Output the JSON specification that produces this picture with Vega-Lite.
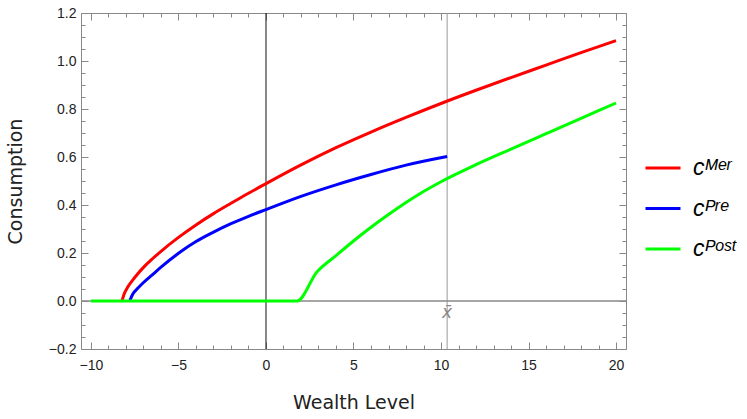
{
  "$schema": "https://vega.github.io/schema/vega-lite/v6.json",
  "width": 545,
  "height": 336,
  "autosize": {"type": "none"},
  "padding": {"left": 81, "top": 13, "right": 121, "bottom": 70},
  "background": "white",
  "config": {
    "view": {"stroke": null},
    "axis": {
      "domainColor": "#888888",
      "tickColor": "#888888",
      "grid": false,
      "labelFont": "Liberation Sans",
      "labelFontSize": 14,
      "labelColor": "#222222",
      "titleFont": "DejaVu Sans",
      "titleFontSize": 19,
      "titleFontWeight": "normal",
      "titleColor": "#222222",
      "labelOverlap": false,
      "labelFlush": false,
      "domainWidth": 1,
      "tickWidth": 1
    }
  },
  "datasets": {
    "curves": [
      {"series": "cᴹᵉʳ", "x": -8.23, "y": 0},
      {"series": "cᴹᵉʳ", "x": -8.1, "y": 0.03},
      {"series": "cᴹᵉʳ", "x": -7.9, "y": 0.058},
      {"series": "cᴹᵉʳ", "x": -7.5, "y": 0.098},
      {"series": "cᴹᵉʳ", "x": -7, "y": 0.14},
      {"series": "cᴹᵉʳ", "x": -6.5, "y": 0.175},
      {"series": "cᴹᵉʳ", "x": -6, "y": 0.207},
      {"series": "cᴹᵉʳ", "x": -5, "y": 0.265},
      {"series": "cᴹᵉʳ", "x": -4, "y": 0.317},
      {"series": "cᴹᵉʳ", "x": -3, "y": 0.364},
      {"series": "cᴹᵉʳ", "x": -2, "y": 0.407},
      {"series": "cᴹᵉʳ", "x": -1, "y": 0.449},
      {"series": "cᴹᵉʳ", "x": 0, "y": 0.489},
      {"series": "cᴹᵉʳ", "x": 2, "y": 0.567},
      {"series": "cᴹᵉʳ", "x": 4, "y": 0.639},
      {"series": "cᴹᵉʳ", "x": 6, "y": 0.704},
      {"series": "cᴹᵉʳ", "x": 8, "y": 0.765},
      {"series": "cᴹᵉʳ", "x": 10, "y": 0.823},
      {"series": "cᴹᵉʳ", "x": 12, "y": 0.878},
      {"series": "cᴹᵉʳ", "x": 14, "y": 0.931},
      {"series": "cᴹᵉʳ", "x": 16, "y": 0.983},
      {"series": "cᴹᵉʳ", "x": 18, "y": 1.035},
      {"series": "cᴹᵉʳ", "x": 20, "y": 1.085},
      {"series": "cᴾʳᵉ", "x": -7.79, "y": 0},
      {"series": "cᴾʳᵉ", "x": -7.6, "y": 0.03},
      {"series": "cᴾʳᵉ", "x": -7.3, "y": 0.055},
      {"series": "cᴾʳᵉ", "x": -7, "y": 0.077},
      {"series": "cᴾʳᵉ", "x": -6.5, "y": 0.109},
      {"series": "cᴾʳᵉ", "x": -6, "y": 0.141},
      {"series": "cᴾʳᵉ", "x": -5, "y": 0.199},
      {"series": "cᴾʳᵉ", "x": -4, "y": 0.248},
      {"series": "cᴾʳᵉ", "x": -3, "y": 0.287},
      {"series": "cᴾʳᵉ", "x": -2, "y": 0.322},
      {"series": "cᴾʳᵉ", "x": -1, "y": 0.353},
      {"series": "cᴾʳᵉ", "x": 0, "y": 0.381},
      {"series": "cᴾʳᵉ", "x": 2, "y": 0.436},
      {"series": "cᴾʳᵉ", "x": 4, "y": 0.484},
      {"series": "cᴾʳᵉ", "x": 6, "y": 0.527},
      {"series": "cᴾʳᵉ", "x": 8, "y": 0.566},
      {"series": "cᴾʳᵉ", "x": 10.35, "y": 0.602},
      {"series": "cᴾᵒˢᵗ", "x": -10, "y": 0},
      {"series": "cᴾᵒˢᵗ", "x": 1.77, "y": 0},
      {"series": "cᴾᵒˢᵗ", "x": 2.91, "y": 0.121},
      {"series": "cᴾᵒˢᵗ", "x": 4, "y": 0.189},
      {"series": "cᴾᵒˢᵗ", "x": 5, "y": 0.25},
      {"series": "cᴾᵒˢᵗ", "x": 6, "y": 0.307},
      {"series": "cᴾᵒˢᵗ", "x": 7, "y": 0.36},
      {"series": "cᴾᵒˢᵗ", "x": 8, "y": 0.41},
      {"series": "cᴾᵒˢᵗ", "x": 9, "y": 0.456},
      {"series": "cᴾᵒˢᵗ", "x": 10, "y": 0.497},
      {"series": "cᴾᵒˢᵗ", "x": 12, "y": 0.568},
      {"series": "cᴾᵒˢᵗ", "x": 14, "y": 0.633},
      {"series": "cᴾᵒˢᵗ", "x": 16, "y": 0.697},
      {"series": "cᴾᵒˢᵗ", "x": 18, "y": 0.761},
      {"series": "cᴾᵒˢᵗ", "x": 20, "y": 0.825}
    ]
  },
  "layer": [
    {
      "data": {"values": [{"x": 0}]},
      "mark": {"type": "rule", "color": "#111111", "strokeWidth": 1},
      "encoding": {
        "x": {
          "field": "x", "type": "quantitative",
          "scale": {"domain": [-10.571, 20.571], "nice": false, "zero": false},
          "axis": {
            "orient": "top", "title": null, "labels": false,
            "values": [-10,-9,-8,-7,-6,-5,-4,-3,-2,-1,0,1,2,3,4,5,6,7,8,9,10,11,12,13,14,15,16,17,18,19,20],
            "tickSize": {"condition": {"test": "datum.value % 5 === 0", "value": -7}, "value": -4}
          }
        }
      }
    },
    {
      "data": {"values": [{"x": 10.35}]},
      "mark": {"type": "rule", "color": "#999999", "strokeWidth": 1},
      "encoding": {
        "x": {"field": "x", "type": "quantitative", "axis": null}
      }
    },
    {
      "data": {"values": [{"y": 0}]},
      "mark": {"type": "rule", "color": "#888888", "strokeWidth": 1.3},
      "encoding": {
        "y": {
          "field": "y", "type": "quantitative",
          "scale": {"domain": [-0.2, 1.2], "nice": false, "zero": false},
          "axis": {
            "orient": "right", "title": null, "labels": false,
            "values": [-0.2,-0.15,-0.1,-0.05,0,0.05,0.1,0.15,0.2,0.25,0.3,0.35,0.4,0.45,0.5,0.55,0.6,0.65,0.7,0.75,0.8,0.85,0.9,0.95,1,1.05,1.1,1.15,1.2],
            "tickSize": {"condition": {"test": "abs(datum.value*5 - round(datum.value*5)) < 0.000001", "value": -7}, "value": -4}
          }
        }
      }
    },
    {
      "data": {"name": "curves"},
      "mark": {"type": "line", "strokeWidth": 3, "interpolate": "monotone"},
      "encoding": {
        "x": {
          "field": "x", "type": "quantitative",
          "axis": {
            "orient": "bottom", "title": "Wealth Level", "titlePadding": 18,
            "values": [-10,-9,-8,-7,-6,-5,-4,-3,-2,-1,0,1,2,3,4,5,6,7,8,9,10,11,12,13,14,15,16,17,18,19,20],
            "labelExpr": "datum.value % 5 === 0 ? format(datum.value, 'd') : ''",
            "tickSize": {"condition": {"test": "datum.value % 5 === 0", "value": -7}, "value": -4},
            "labelPadding": 16
          }
        },
        "y": {
          "field": "y", "type": "quantitative",
          "axis": {
            "orient": "left", "title": "Consumption", "titlePadding": 23,
            "values": [-0.2,-0.15,-0.1,-0.05,0,0.05,0.1,0.15,0.2,0.25,0.3,0.35,0.4,0.45,0.5,0.55,0.6,0.65,0.7,0.75,0.8,0.85,0.9,0.95,1,1.05,1.1,1.15,1.2],
            "labelExpr": "abs(datum.value*5 - round(datum.value*5)) < 0.000001 ? format(datum.value, '.1f') : ''",
            "tickSize": {"condition": {"test": "abs(datum.value*5 - round(datum.value*5)) < 0.000001", "value": -7}, "value": -4},
            "labelPadding": 12
          }
        },
        "color": {
          "field": "series", "type": "nominal",
          "scale": {"domain": ["cᴹᵉʳ", "cᴾʳᵉ", "cᴾᵒˢᵗ"], "range": ["#ff0000", "#0000ff", "#00ff00"]},
          "legend": {
            "orient": "none", "legendX": 563, "legendY": 136, "title": null,
            "symbolType": "stroke", "symbolSize": 1225, "symbolStrokeWidth": 3,
            "labelFontSize": 23, "labelFont": "Liberation Sans", "labelFontStyle": "italic",
            "labelOffset": 11, "rowPadding": 9.5, "labelColor": "#000000", "padding": 0
          }
        }
      }
    },
    {
      "data": {"values": [{"x": 10.35, "y": 0, "label": "x̄"}]},
      "mark": {"type": "text", "dy": 17, "baseline": "alphabetic", "align": "center", "fontStyle": "italic", "fontSize": 17, "font": "DejaVu Sans", "color": "#888888"},
      "encoding": {
        "x": {"field": "x", "type": "quantitative", "axis": null},
        "y": {"field": "y", "type": "quantitative", "axis": null},
        "text": {"field": "label"}
      }
    }
  ],
  "resolve": {"axis": {"x": "independent", "y": "independent"}}
}
